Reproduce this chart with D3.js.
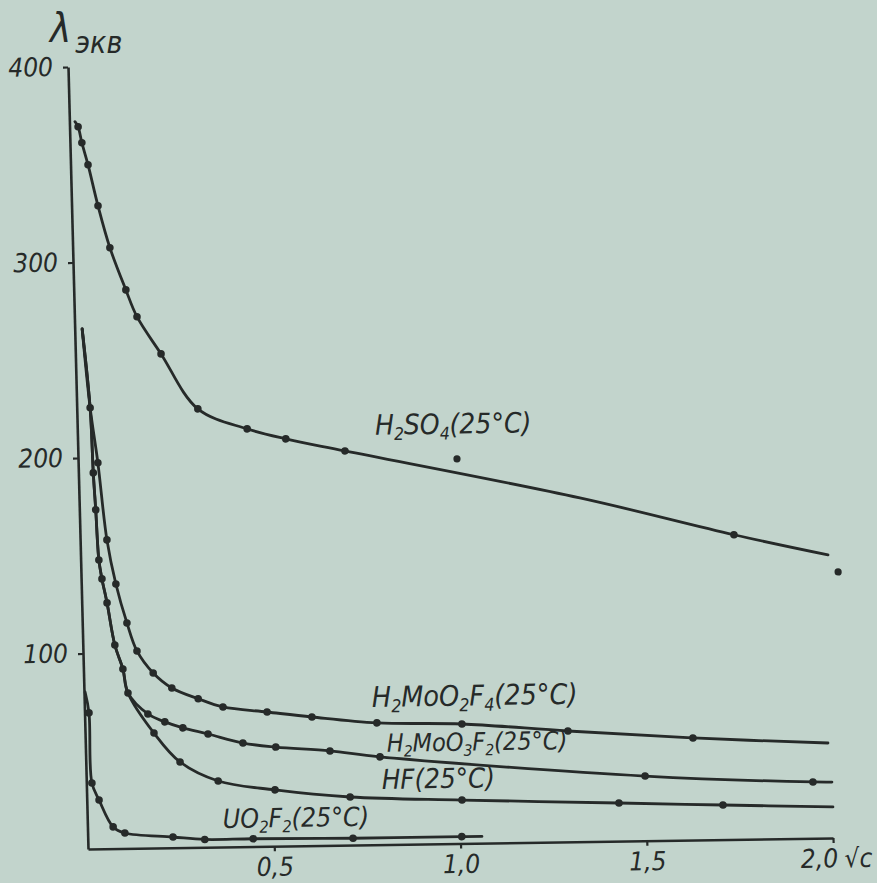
<!DOCTYPE html>
<html><head><meta charset="utf-8">
<script src="https://cdn.jsdelivr.net/npm/d3@7"></script>
<style>
html,body{margin:0;padding:0;background:#c2d4cc;}
svg{display:block;}
</style></head><body>
<svg id="chart" width="877" height="883"></svg>
<script>
// ---------- data ----------
const xTicks = [0.5, 1.0, 1.5, 2.0];
const xTickLabels = ["0,5", "1,0", "1,5", "2,0"];
const yTicks = [100, 200, 300, 400];
const yTickLabels = ["100", "200", "300", "400"];
const seriesNames = ["H_2SO_4(25°C)", "H_2MoO_2F_4(25°C)", "H_2MoO_3F_2(25°C)", "HF(25°C)", "UO_2F_2(25°C)"];

// curve knots: x = √c, y = λэкв, dot = measured point drawn
const h2so4X   = [0.015, 0.023, 0.032, 0.047, 0.071, 0.100, 0.140, 0.168, 0.230, 0.325, 0.456, 0.559, 0.717, 1.344, 1.755, 2.006];
const h2so4Y   = [372.0, 369.4, 361.2, 349.9, 328.8, 307.3, 285.6, 271.8, 252.6, 224.2, 213.6, 208.2, 201.6, 175.8, 155.8, 144.8];
const h2so4Dot = [0, 1, 1, 1, 1, 1, 1, 1, 1, 1, 1, 1, 1, 0, 1, 0];
const h2so4OffX = [1.017, 2.032];
const h2so4OffY = [196.7, 136.0];

const mo2f4X   = [0.020, 0.036, 0.053, 0.072, 0.093, 0.120, 0.145, 0.187, 0.236, 0.306, 0.372, 0.490, 0.610, 0.784, 1.012, 1.296, 1.631, 1.993];
const mo2f4Y   = [266.0, 225.6, 197.4, 157.9, 135.3, 115.3, 100.9, 89.5, 81.7, 76.0, 71.6, 68.7, 65.8, 62.3, 61.1, 56.7, 52.2, 48.6];
const mo2f4Dot = [0, 1, 1, 1, 1, 1, 1, 1, 1, 1, 1, 1, 1, 1, 1, 1, 1, 0];

const mo3f2X   = [0.020, 0.036, 0.040, 0.044, 0.049, 0.056, 0.068, 0.086, 0.106, 0.118, 0.170, 0.215, 0.263, 0.330, 0.423, 0.511, 0.656, 0.790, 1.500, 1.950, 2.001];
const mo3f2Y   = [266.0, 225.6, 192.3, 173.4, 147.7, 138.0, 125.7, 104.1, 91.8, 79.5, 68.6, 64.4, 61.2, 57.9, 53.0, 50.7, 48.3, 44.9, 33.1, 28.8, 28.6];
const mo3f2Dot = [0, 0, 1, 1, 1, 1, 1, 1, 1, 1, 1, 1, 1, 1, 1, 1, 1, 1, 1, 1, 0];

const hfX   = [0.020, 0.036, 0.040, 0.044, 0.049, 0.056, 0.068, 0.086, 0.106, 0.118, 0.185, 0.253, 0.354, 0.506, 0.707, 1.007, 1.428, 1.707, 2.002];
const hfY   = [266.0, 225.6, 192.3, 173.4, 147.7, 138.0, 125.7, 104.1, 91.8, 79.5, 58.8, 43.8, 33.8, 28.8, 24.6, 22.2, 19.5, 17.7, 15.9];
const hfDot = [0, 0, 0, 0, 0, 0, 0, 0, 0, 0, 1, 1, 1, 1, 1, 1, 1, 1, 0];

const uo2f2X   = [0.003, 0.012, 0.015, 0.033, 0.069, 0.100, 0.229, 0.314, 0.444, 0.712, 1.004, 1.058];
const uo2f2Y   = [80.3, 69.6, 33.7, 25.0, 11.1, 7.9, 5.5, 4.0, 4.0, 3.5, 3.5, 3.5];
const uo2f2Dot = [0, 1, 1, 1, 1, 1, 1, 1, 1, 1, 1, 0];

// ---------- layout ----------
const W = 877, H = 883;
const plot = {left: 88, right: 833, top: 67, bottom: 849};
const ink = "#262a29";
const bg = "#c2d4cc";
const fontFam = "'Liberation Sans Narrow','DejaVu Sans Condensed','Arial Narrow',sans-serif";
// label anchors in data units, and sizes
const labelLayout = [
  {x: 0.799, y: 209.6, size: 28},
  {x: 0.772, y: 70.5, size: 28.5},
  {x: 0.809, y: 47.4, size: 25},
  {x: 0.793, y: 28.5, size: 27.5},
  {x: 0.364, y: 9.7, size: 26.5}
];

const svg = d3.select("#chart");
svg.append("rect").attr("width", W).attr("height", H).attr("fill", bg);

const x = d3.scaleLinear().domain([0, 2]).range([plot.left, plot.right]);
const y = d3.scaleLinear().domain([0, 400]).range([plot.bottom, plot.top]);

// the scanned figure is slightly skewed: reproduce with an affine transform
const g = svg.append("g")
  .attr("transform", `translate(${plot.left},${plot.bottom}) matrix(1,-0.01477,0.02558,1,0,0) translate(${-plot.left},${-plot.bottom})`);

// axes
const xAxis = d3.axisBottom(x).tickValues(xTicks).tickSize(5).tickSizeOuter(0).tickPadding(6)
  .tickFormat((d, i) => xTickLabels[i]);
const yAxis = d3.axisLeft(y).tickValues(yTicks).tickSize(5).tickSizeOuter(0).tickPadding(10)
  .tickFormat((d, i) => yTickLabels[i]);

const gx = g.append("g").attr("transform", `translate(0,${plot.bottom})`).call(xAxis);
const gy = g.append("g").attr("transform", `translate(${plot.left},0)`).call(yAxis);
[gx, gy].forEach(a => {
  a.select(".domain").attr("stroke", ink).attr("stroke-width", 2.6);
  a.selectAll(".tick line").attr("stroke", ink).attr("stroke-width", 2.2);
  a.selectAll(".tick text").attr("fill", ink).attr("font-family", fontFam)
    .attr("font-style", "italic").attr("font-size", 26);
});
// the last x label sits left of its tick to make room for √c
gx.selectAll(".tick text").filter((d, i) => i === xTicks.length - 1)
  .attr("text-anchor", "end").attr("dx", 4);
gx.append("text").attr("x", x(2) + 11).attr("y", 11).attr("dy", "0.71em")
  .attr("fill", ink).attr("font-family", fontFam).attr("font-style", "italic")
  .attr("font-size", 26).attr("text-anchor", "start").text("√c");

// curves
const line = d3.line().x(d => x(d[0])).y(d => y(d[1])).curve(d3.curveCatmullRom.alpha(0.5));
const seriesData = [
  [h2so4X, h2so4Y, h2so4Dot],
  [mo2f4X, mo2f4Y, mo2f4Dot],
  [mo3f2X, mo3f2Y, mo3f2Dot],
  [hfX, hfY, hfDot],
  [uo2f2X, uo2f2Y, uo2f2Dot]
];
seriesData.forEach(([xs, ys, ds]) => {
  const pts = xs.map((v, i) => [v, ys[i], ds[i]]);
  g.append("path").datum(pts).attr("d", line)
    .attr("fill", "none").attr("stroke", ink).attr("stroke-width", 2.8).attr("stroke-linecap", "round");
  g.append("g").selectAll("circle").data(pts.filter(p => p[2] === 1)).join("circle")
    .attr("cx", p => x(p[0])).attr("cy", p => y(p[1])).attr("r", 3.8).attr("fill", ink);
});
g.append("g").selectAll("circle").data(h2so4OffX.map((v, i) => [v, h2so4OffY[i]])).join("circle")
  .attr("cx", p => x(p[0])).attr("cy", p => y(p[1])).attr("r", 3.6).attr("fill", ink);

// series labels with subscripts
function addFormula(sel, str) {
  const parts = str.split(/(_\d)/).filter(s => s.length);
  let sub = false;
  parts.forEach(p => {
    if (p.startsWith("_")) {
      sel.append("tspan").attr("font-size", "0.62em").attr("dy", "0.32em").text(p.slice(1));
      sub = true;
    } else {
      const t = sel.append("tspan").text(p);
      if (sub) { t.attr("dy", "-0.2em"); sub = false; }
    }
  });
}
seriesNames.forEach((name, i) => {
  const L = labelLayout[i];
  const t = g.append("text").attr("x", x(L.x)).attr("y", y(L.y))
    .attr("fill", ink).attr("font-family", fontFam).attr("font-style", "italic")
    .attr("font-size", L.size);
  addFormula(t, name);
});

// y-axis title λэкв
const title = svg.append("text").attr("x", 50).attr("y", 42)
  .attr("fill", ink).attr("font-family", fontFam).attr("font-style", "italic");
title.append("tspan").attr("font-size", 40).text("λ");
title.append("tspan").attr("font-size", 30).attr("dx", 4).attr("dy", 11).text("экв");
</script>
</body></html>
